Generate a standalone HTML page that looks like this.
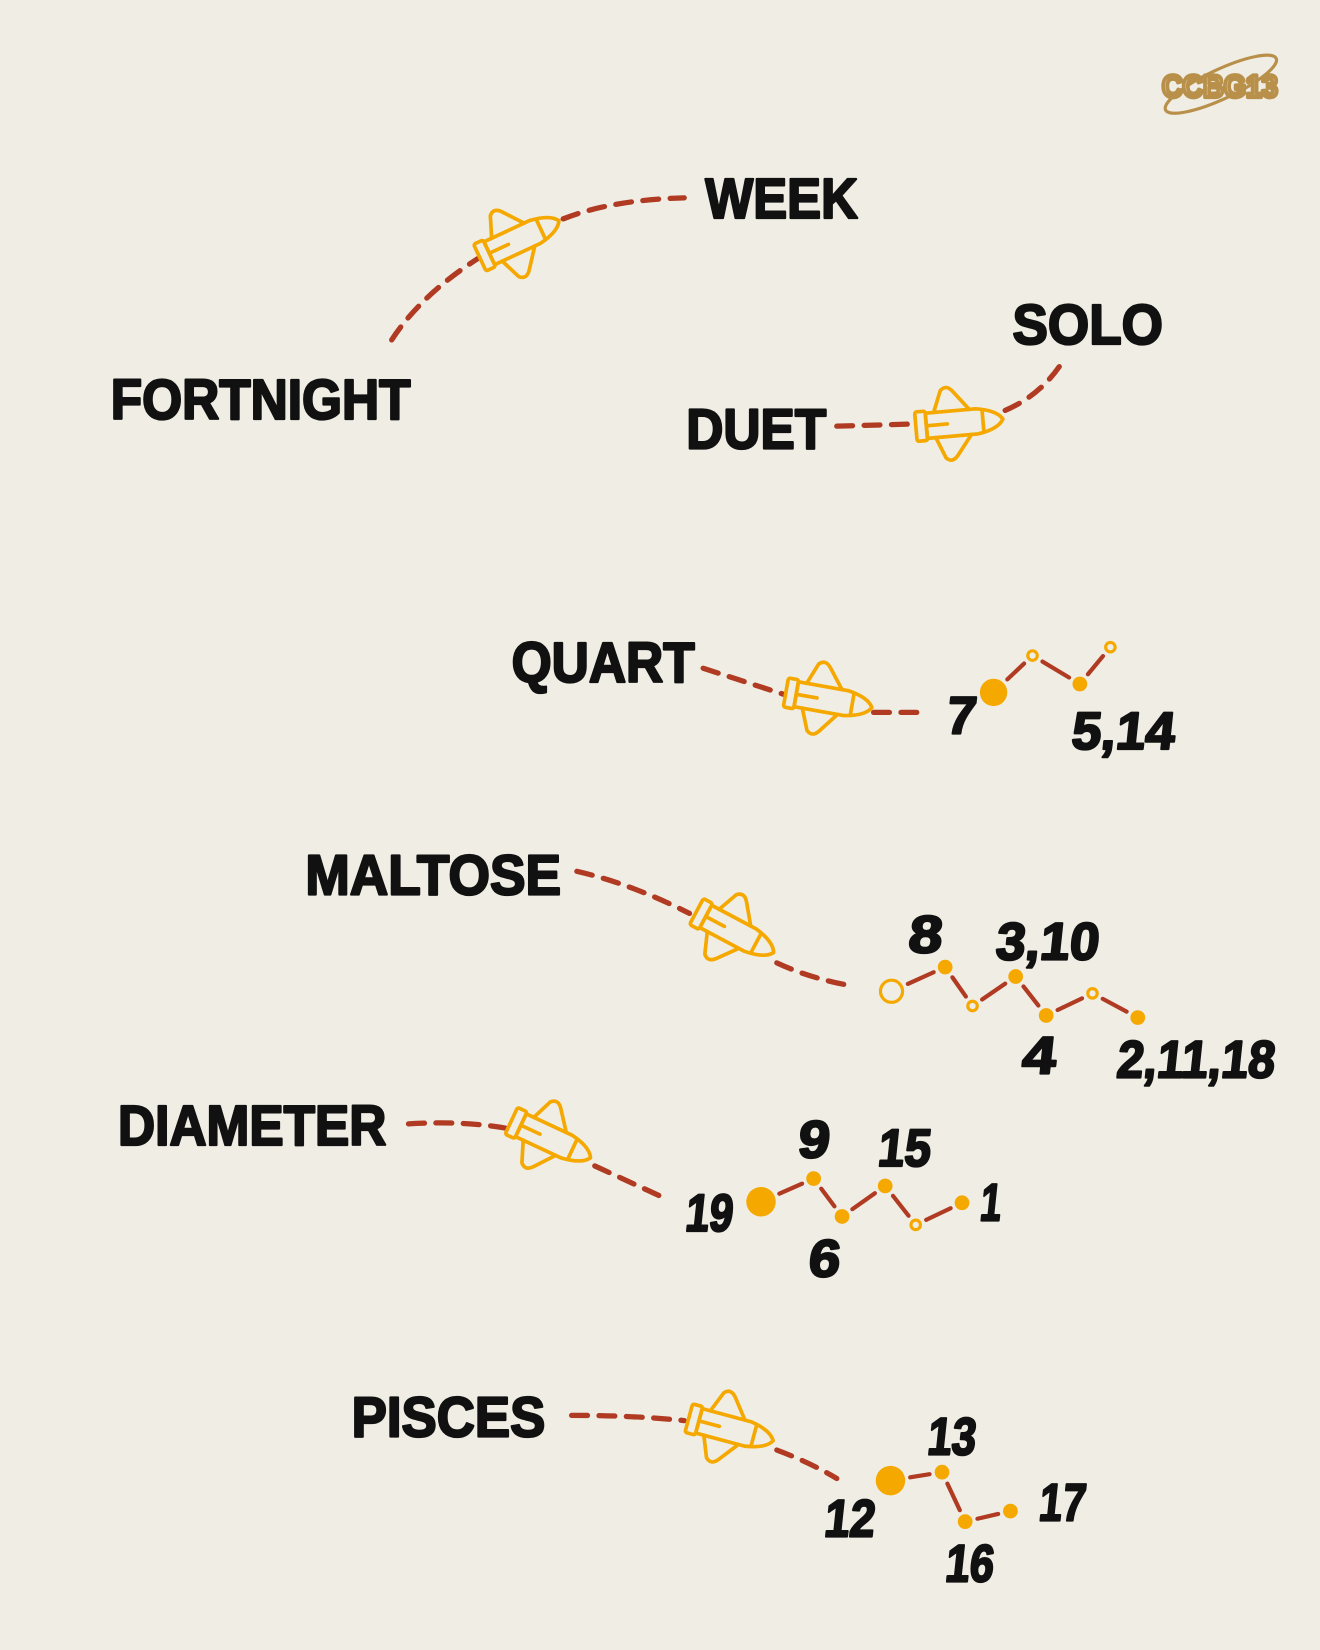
<!DOCTYPE html>
<html><head><meta charset="utf-8"><style>
html,body{margin:0;padding:0;background:#efede4;}
svg{display:block;}
text{font-family:"Liberation Sans",sans-serif;font-weight:bold;fill:#111;stroke:#111;stroke-width:2.2;stroke-linejoin:round;}
</style></head><body>
<svg id="chart" width="1320" height="1650" viewBox="0 0 1254 1568" xmlns="http://www.w3.org/2000/svg">
<rect width="1254" height="1568" fill="#efede4"/>
<g>
<ellipse cx="1160" cy="80" rx="58" ry="14" fill="none" stroke="#b8904a" stroke-width="3" transform="rotate(-25 1160 80)"/>
<text x="1104" y="92" font-size="30" textLength="110" lengthAdjust="spacingAndGlyphs" style="fill:#efede4;stroke:#b8904a;stroke-width:4;">CCBG13</text>
</g>
<g id="layer"></g>
</svg>
<script>
// word labels: text, x, baseline, width
const words = ["WEEK","FORTNIGHT","SOLO","DUET","QUART","MALTOSE","DIAMETER","PISCES"];
const wordX = [670,105,962,652,486,290,112,334];
const wordY = [207,398,327,426,648,850,1088,1365];
const wordW = [145,285,143,133,174,243,255,184];

// sequence nodes per word group (x, y, radius, filled)
const quartX = [944,981,1026,1055];
const quartY = [658,623,650,615];
const quartR = [13,6,7,6];
const quartFill = [1,0,1,0];
const maltX = [847,898,924,965,994,1038,1081];
const maltY = [942,919,956,928,965,944,967];
const maltR = [12,7,6,7,7,6,7];
const maltFill = [0,1,0,1,1,0,1];
const diaX = [723,773,800,841,870,914];
const diaY = [1142,1120,1156,1127,1164,1143];
const diaR = [14,7,7,7,6,7];
const diaFill = [1,1,1,1,0,1];
const pisX = [846,895,917,960];
const pisY = [1407,1399,1446,1436];
const pisR = [14,7,7,7];
const pisFill = [1,1,1,1];

// number labels: text, x, baseline, width
const numText = ["7","5,14","8","3,10","4","2,11,18","19","9","15","6","1","12","13","16","17"];
const numX = [898,1017,862,945,970,1060,650,757,833,767,930,782,880,897,986];
const numY = [697,712,905,912,1020,1024,1170,1100,1108,1213,1160,1460,1382,1503,1445];
const numW = [28,98,32,98,32,150,45,30,50,30,20,48,46,46,44];

// dashed paths and rockets
const dashes = [
 "M372,323 Q400,280 455,245","M535,208 Q580,190 650,188",
 "M795,405 L865,403","M955,390 Q990,375 1010,343",
 "M668,635 L745,660","M830,677 L880,677",
 "M548,828 Q600,840 655,868","M738,915 Q770,930 810,937",
 "M388,1068 Q440,1065 480,1072","M565,1108 L628,1137",
 "M543,1345 Q600,1345 650,1350","M738,1378 Q770,1390 795,1405"];
const rocketX = [492,910,786,697,522,693];
const rocketY = [228,402,665,885,1082,1358];
const rocketA = [-25,-5,10,28,25,15];

const NS="http://www.w3.org/2000/svg";
const layer=document.getElementById('layer');
function mk(tag,attrs,parent){const e=document.createElementNS(NS,tag);for(const k in attrs)e.setAttribute(k,attrs[k]);(parent||layer).appendChild(e);return e;}

dashes.forEach((d,i)=>{
 const p=mk('path',{d:d,fill:'none',stroke:'#b03a22','stroke-width':5,'stroke-dasharray':'15 11','stroke-linecap':'round'});
 
 
});

function seq(xs,ys,rs,fs,name){
 for(let i=0;i<xs.length-1;i++){
  const dx=xs[i+1]-xs[i],dy=ys[i+1]-ys[i],L=Math.hypot(dx,dy);
  const ux=dx/L,uy=dy/L,a=rs[i]+5,b=rs[i+1]+5;
  const l=mk('line',{x1:xs[i]+ux*a,y1:ys[i]+uy*a,x2:xs[i+1]-ux*b,y2:ys[i+1]-uy*b,stroke:'#b03a22','stroke-width':4,'stroke-linecap':'round'});
  
  
 }
 xs.forEach((x,i)=>{
  const c=mk('circle',{cx:x,cy:ys[i],r:fs[i]?rs[i]:rs[i]-1.5,fill:fs[i]?'#f5a800':'none',stroke:'#f5a800','stroke-width':fs[i]?0:3});
  
  
 });
}
seq(quartX,quartY,quartR,quartFill,'quart');
seq(maltX,maltY,maltR,maltFill,'maltose');
seq(diaX,diaY,diaR,diaFill,'diameter');
seq(pisX,pisY,pisR,pisFill,'pisces');

rocketX.forEach((x,i)=>{
 const g=mk('g',{transform:`translate(${x},${rocketY[i]}) rotate(${rocketA[i]})`,fill:'none',stroke:'#f5a800','stroke-width':3.5,'stroke-linejoin':'round','stroke-linecap':'round'});
 
 
 mk('path',{d:'M-30,-12 L18,-12 Q38,-9 43,0 Q38,9 18,12 L-30,12 Z'},g);
 mk('path',{d:'M-22,-12 L-14,-32 Q-8,-38 -2,-30 L12,-12'},g);
 mk('path',{d:'M-22,12 L-14,32 Q-8,38 -2,30 L12,12'},g);
 mk('rect',{x:-40,y:-14,width:10,height:28,rx:2},g);
 mk('line',{x1:24,y1:-10,x2:24,y2:10},g);
 mk('line',{x1:-30,y1:0,x2:-10,y2:0},g);
});

words.forEach((w,i)=>{
 const t=mk('text',{x:wordX[i],y:wordY[i],'font-size':54,textLength:wordW[i],lengthAdjust:'spacingAndGlyphs'});
 t.textContent=w;
 
 
});
numText.forEach((n,i)=>{
 const t=mk('text',{x:numX[i],y:numY[i],'font-size':50,textLength:numW[i],lengthAdjust:'spacingAndGlyphs',transform:`skewX(-6)`,style:`transform-origin:${numX[i]}px ${numY[i]}px`});
 t.textContent=n;
 
 
});
</script>
</body></html>
